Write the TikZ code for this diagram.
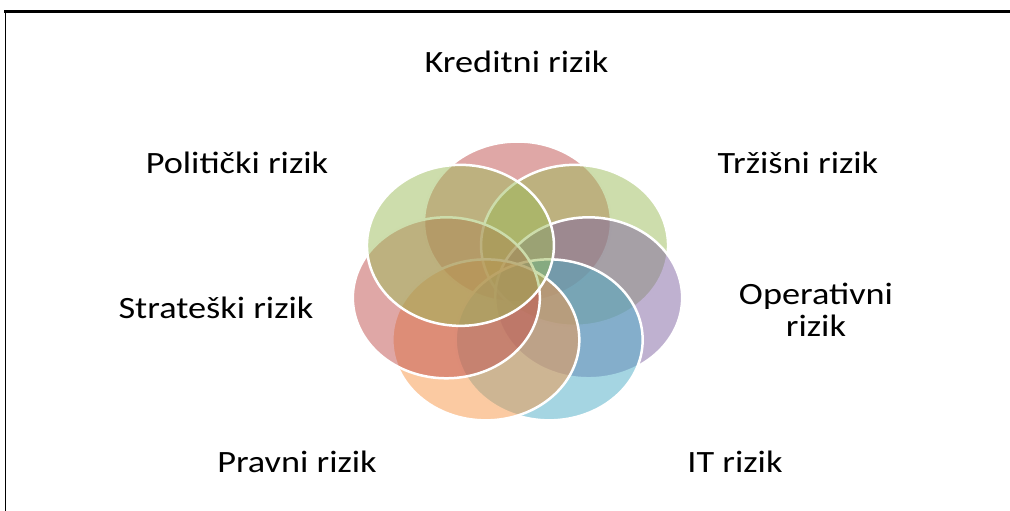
\documentclass[tikz,border=0pt]{standalone}
\usepackage{fontspec}
\setmainfont[FakeStretch=1.17]{Carlito}
\usetikzlibrary{shapes.geometric}

\definecolor{riskred}{HTML}{C0504D}
\definecolor{riskgreen}{HTML}{9BBB59}
\definecolor{riskpurple}{HTML}{8064A2}
\definecolor{riskaqua}{HTML}{4BACC6}
\definecolor{riskorange}{HTML}{F79646}

\tikzset{
  petal/.style = {ellipse, minimum width=187pt, minimum height=161pt,
    inner sep=0pt, fill=#1, fill opacity=0.5, draw=white, line width=2.5pt},
  risklabel/.style = {font=\fontsize{31}{32}\selectfont, align=center}
}

\begin{document}
\begin{tikzpicture}[x=1pt, y=-1pt]
  \useasboundingbox (0,0) rectangle (1010,511);

  % frame
  \coordinate (fl) at (4,12);
  \coordinate (fr) at (1010,12);
  \coordinate (fb) at (5,511);
  \draw[line width=3pt] (fl) -- (fr);
  \draw[line width=1pt] (fl -| fb) -- (fb);

  % ring of petals
  \foreach \nm/\ang/\col in {kred/90/riskred, trz/38.57/riskgreen,
      oper/-12.86/riskpurple, it/-64.29/riskaqua, prav/-115.71/riskorange,
      strat/-167.14/riskred, polit/141.43/riskgreen}
    \node[petal=\col] (\nm) at ({517.5+73*cos(\ang)}, {284-62*sin(\ang)}) {};

  % labels
  \node[risklabel] (kredtxt)  at (516.5,62)  {Kreditni rizik};
  \node[risklabel] (trztxt)   at (798,163)   {Tržišni rizik};
  \node[risklabel] (opertxt)  at (816,310)   {Operativni\\rizik};
  \node[risklabel] (ittxt)    at (735,462)   {IT rizik};
  \node[risklabel] (pravtxt)  at (297,462)   {Pravni rizik};
  \node[risklabel] (strattxt) at (216,308)   {Strateški rizik};
  \node[risklabel] (polittxt) at (237,163)   {Politički rizik};
\end{tikzpicture}
\end{document}
